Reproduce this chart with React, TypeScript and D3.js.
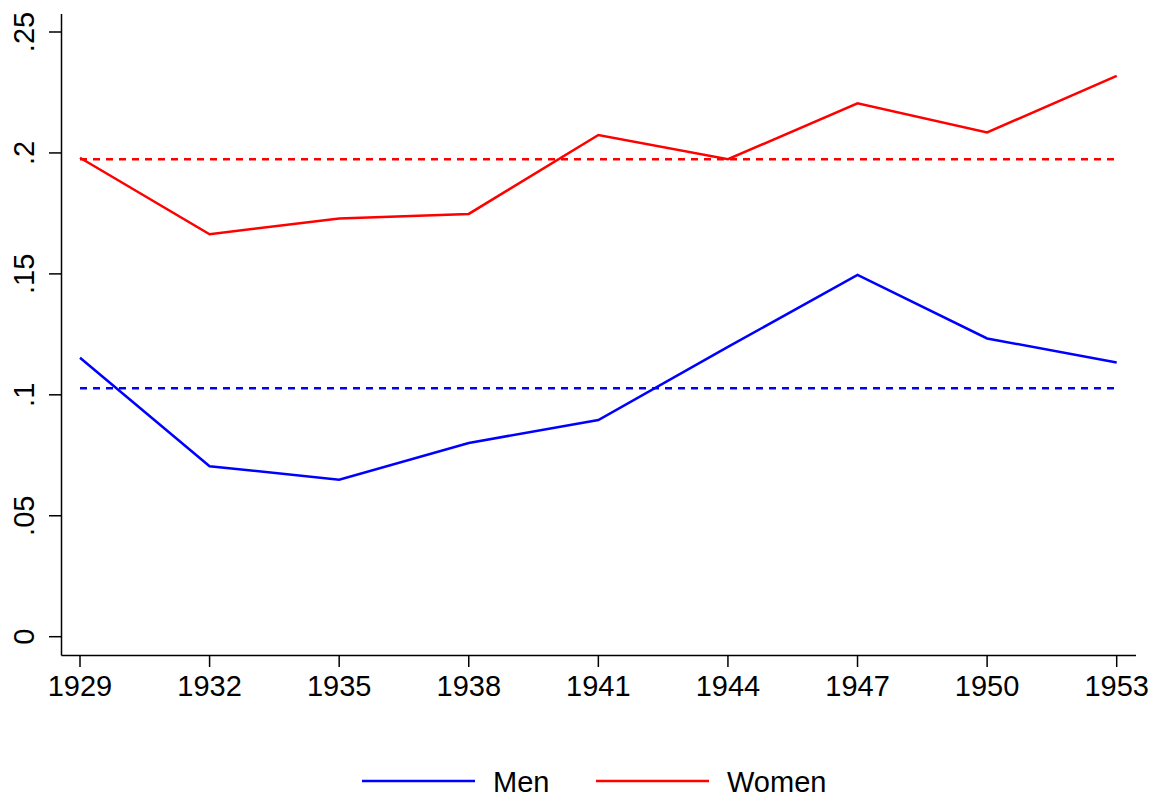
import React from "react";
import * as d3 from "d3";

const years = [1929, 1932, 1935, 1938, 1941, 1944, 1947, 1950, 1953];
const men = [0.1153, 0.0705, 0.0649, 0.0801, 0.0896, 0.1198, 0.1496, 0.1233, 0.1134];
const women = [0.198, 0.1664, 0.1729, 0.1748, 0.2074, 0.1974, 0.2205, 0.2085, 0.2319];
const menMean = 0.1027;
const womenMean = 0.1974;
const yTicks = [0, 0.05, 0.1, 0.15, 0.2, 0.25];
const yTickLabels = ["0", ".05", ".1", ".15", ".2", ".25"];
const seriesNames = ["Men", "Women"];
const seriesColors = ["#0000ff", "#ff0000"];

export default function App() {
  const W = 1152, H = 796;
  const x = d3.scaleLinear().domain([1929, 1953]).range([80, 1116.7]);
  const y = d3.scaleLinear().domain([0, 0.25]).range([636.7, 32]);
  const line = d3.line<[number, number]>().x(d => x(d[0])).y(d => y(d[1]));
  const axisX = 61.5, axisY = 655.5;
  const font = "'Liberation Sans', Arial, Helvetica, sans-serif";
  const fs = 29;
  const series = [men, women];
  const means = [menMean, womenMean];
  return (
    <svg width={W} height={H} style={{ position: "absolute", left: 0, top: 0, background: "#fff" }}>
      <rect width={W} height={H} fill="#fff" />
      <line x1={axisX} x2={axisX} y1={14} y2={axisY} stroke="#000" strokeWidth={1.5} />
      <line x1={axisX} x2={1136} y1={axisY} y2={axisY} stroke="#000" strokeWidth={1.5} />
      {yTicks.map((t, i) => (
        <g key={t}>
          <line x1={49} x2={axisX} y1={y(t)} y2={y(t)} stroke="#000" strokeWidth={1.5} />
          <text transform={`translate(34,${y(t)}) rotate(-90)`} textAnchor="middle" fontFamily={font} fontSize={fs} fill="#000">
            {yTickLabels[i]}
          </text>
        </g>
      ))}
      {years.map(yr => (
        <g key={yr}>
          <line x1={x(yr)} x2={x(yr)} y1={axisY} y2={667} stroke="#000" strokeWidth={1.5} />
          <text x={x(yr)} y={695.5} textAnchor="middle" fontFamily={font} fontSize={fs} fill="#000">
            {yr}
          </text>
        </g>
      ))}
      {means.map((m, i) => (
        <line key={i} x1={x(1929)} x2={x(1953)} y1={y(m)} y2={y(m)} stroke={seriesColors[i]} strokeWidth={2.5} strokeDasharray="7 6" />
      ))}
      {series.map((s, i) => (
        <path key={i} d={line(years.map((yr, j) => [yr, s[j]]) as [number, number][]) || ""} fill="none" stroke={seriesColors[i]} strokeWidth={2.5} strokeLinejoin="miter" />
      ))}
      {seriesNames.map((n, i) => {
        const x0 = i === 0 ? 362 : 596;
        return (
          <g key={n}>
            <line x1={x0} x2={x0 + 113} y1={781} y2={781} stroke={seriesColors[i]} strokeWidth={2.5} />
            <text x={x0 + 131} y={791.5} fontFamily={font} fontSize={fs} fill="#000">{n}</text>
          </g>
        );
      })}
    </svg>
  );
}
